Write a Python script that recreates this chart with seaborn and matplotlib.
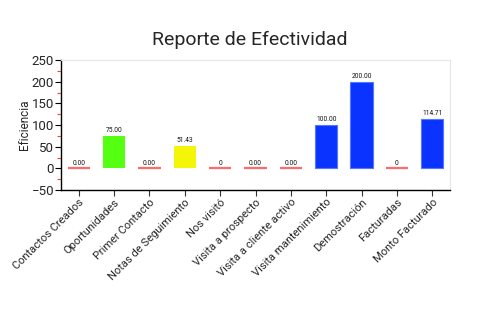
import matplotlib
matplotlib.use("Agg")
import matplotlib.pyplot as plt
import seaborn as sns
import pandas as pd
from matplotlib.ticker import MultipleLocator

categorias = ["Contactos Creados", "Oportunidades", "Primer Contacto",
              "Notas de Seguimiento", "Nos visitó", "Visita a prospecto",
              "Visita a cliente activo", "Visita mantenimiento",
              "Demostración", "Facturadas", "Monto Facturado"]
eficiencia = [0.00, 75.00, 0.00, 51.43, 0, 0.00, 0.00, 100.00, 200.00, 0, 114.71]
etiquetas = ["0.00", "75.00", "0.00", "51.43", "0", "0.00", "0.00",
             "100.00", "200.00", "0", "114.71"]
colores = ["#ff6b6b", "#55ff11", "#ff6b6b", "#f5f50a", "#ff6b6b", "#ff6b6b",
           "#ff6b6b", "#0a33ff", "#0a33ff", "#ff6b6b", "#0a33ff"]

df = pd.DataFrame({"categoria": categorias, "eficiencia": eficiencia})

sns.set_theme(style="white")
plt.rcParams["font.family"] = ["Roboto", "DejaVu Sans"]

fig = plt.figure(figsize=(5, 3.3), dpi=100)
ax = fig.add_axes([0.122, 0.424, 0.778, 0.394])

sns.barplot(data=df, x="categoria", y="eficiencia", hue="categoria",
            palette=colores, legend=False, width=0.63, saturation=1, ax=ax)

for patch, val, col in zip(ax.patches, eficiencia, colores):
    if val == 0:
        patch.set_edgecolor(col)
        patch.set_linewidth(1.6)
    elif col == "#0a33ff":
        patch.set_edgecolor("#5577ff")
        patch.set_linewidth(0.8)
    else:
        patch.set_edgecolor("none")

for i, (val, txt) in enumerate(zip(eficiencia, etiquetas)):
    ax.text(i, val + 4, txt, ha="center", va="bottom", fontsize=4.8, color="#111111")

ax.set_xlim(-0.5, 10.5)
ax.set_ylim(-50, 250)
ax.yaxis.set_major_locator(MultipleLocator(50))
ax.yaxis.set_minor_locator(MultipleLocator(25))
ax.tick_params(axis="y", which="major", direction="out", length=4, width=0.8,
               color="black", labelsize=9.5, pad=1, left=True)
ax.tick_params(axis="y", which="minor", direction="out", length=3, width=0.8,
               color="#ff4444", left=True)
ax.tick_params(axis="x", direction="out", length=4, width=0.8, color="#333333",
               labelsize=8, pad=1, bottom=True)
plt.setp(ax.get_xticklabels(), rotation=45, ha="right", rotation_mode="anchor")

ax.set_xlabel("")
ax.set_ylabel("Eficiencia", fontsize=8.5)
ax.yaxis.set_label_coords(-0.078, 0.5)

for side in ["left", "bottom"]:
    ax.spines[side].set_color("black")
    ax.spines[side].set_linewidth(1)
for side in ["top", "right"]:
    ax.spines[side].set_color("#e6e6e6")
    ax.spines[side].set_linewidth(0.8)

fig.suptitle("Reporte de Efectividad", y=0.905, fontsize=14)

fig.savefig("out.png", dpi=100)
